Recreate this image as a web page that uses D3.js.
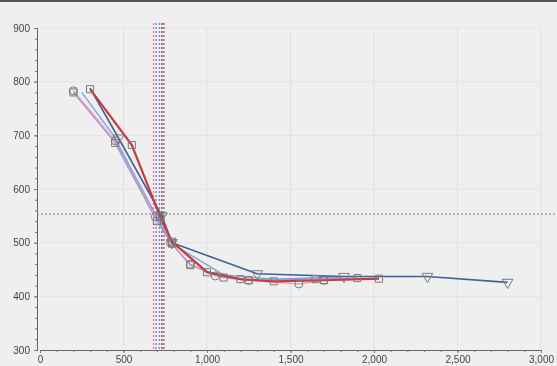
<!DOCTYPE html>
<html>
<head>
<meta charset="utf-8">
<script src="https://cdn.jsdelivr.net/npm/d3@7"></script>
<style>
  body { margin: 0; background: #efefef; }
  svg { display: block; font-family: "DejaVu Sans", sans-serif; }
</style>
</head>
<body>
<div id="chart"></div>
<script>
var width = 557, height = 366;
var margin = {top: 28, right: 16, bottom: 16, left: 40};

// series
var s1x = [200, 450, 690, 780, 900, 1050, 1250, 1550, 1700];
var s1y = [783, 690, 548, 500, 460, 438, 430, 423, 430];
var s2x = [200, 450, 700, 790, 900, 1100, 1250, 1650, 1900];
var s2y = [780, 686, 540, 498, 458, 435, 430, 432, 434];
var s3x = [300, 550, 720, 790, 1000, 1200, 1400, 1700, 2030];
var s3y = [786, 682, 548, 502, 445, 432, 428, 430, 433];
var s4x = [300, 470, 730, 790, 1300, 1820, 2320, 2800];
var s4y = [788, 695, 550, 500, 442, 437, 437, 426];
var s5x = [250, 440, 705, 790, 1100, 1400, 1800];
var s5y = [780, 700, 545, 498, 440, 432, 436];

var refX = [680, 695, 715, 730, 742];
var refY = [553];

var xTicks = [0, 500, 1000, 1500, 2000, 2500, 3000];
var yTicks = [300, 400, 500, 600, 700, 800, 900];

var series = [
  {x: s1x, y: s1y, color: "#e0a0c0", w: 1.3, mark: "circle"},
  {x: s2x, y: s2y, color: "#b090c8", w: 1.3, mark: "square"},
  {x: s5x, y: s5y, color: "#7aa0dc", w: 1.3, mark: "none"},
  {x: s4x, y: s4y, color: "#3f5f9a", w: 1.6, mark: "tri"},
  {x: s3x, y: s3y, color: "#c83a3a", w: 2.2, mark: "square"}
];
var refColors = ["#e07aa8", "#9070b0", "#6a8ad0", "#34487a", "#d04848"];

var svg = d3.select("#chart").append("svg")
    .attr("width", width)
    .attr("height", height);

svg.append("defs").append("filter")
    .attr("id", "soft")
    .append("feGaussianBlur")
    .attr("stdDeviation", 0.45);

svg.append("rect").attr("width", width).attr("height", height).attr("fill", "#efefef");
svg.append("rect").attr("width", width).attr("height", 2).attr("fill", "#555");

var g = svg.append("g").attr("filter", "url(#soft)");

var x = d3.scaleLinear().domain([0, 3000]).range([margin.left, width - margin.right]);
var y = d3.scaleLinear().domain([300, 900]).range([height - margin.bottom, margin.top]);

// grid
g.append("g").selectAll("line")
    .data(xTicks.slice(1))
    .enter().append("line")
    .attr("x1", function(d) { return x(d); })
    .attr("x2", function(d) { return x(d); })
    .attr("y1", y(900)).attr("y2", y(300))
    .attr("stroke", "#e0e0e0");
g.append("g").selectAll("line")
    .data(yTicks.slice(1))
    .enter().append("line")
    .attr("y1", function(d) { return y(d); })
    .attr("y2", function(d) { return y(d); })
    .attr("x1", x(0)).attr("x2", x(3000))
    .attr("stroke", "#e4e4e4");

// axes
var fmt = d3.format(",d");
var xAxis = g.append("g")
    .attr("transform", "translate(0," + y(300) + ")")
    .call(d3.axisBottom(x).tickValues(xTicks).tickFormat(fmt).tickSize(3));
var xMinor = g.append("g")
    .attr("transform", "translate(0," + y(300) + ")")
    .call(d3.axisBottom(x).ticks(30).tickFormat("").tickSize(2));
var yAxis = g.append("g")
    .attr("transform", "translate(" + (x(0) - 3) + ",0)")
    .call(d3.axisLeft(y).tickValues(yTicks).tickSize(3));
var yMinor = g.append("g")
    .attr("transform", "translate(" + (x(0) - 3) + ",0)")
    .call(d3.axisLeft(y).ticks(30).tickFormat("").tickSize(2));

[xAxis, xMinor, yAxis, yMinor].forEach(function(a) {
  a.selectAll("path").attr("stroke", "#666");
  a.selectAll("line").attr("stroke", "#777");
  a.selectAll("text").attr("fill", "#444").attr("font-size", 10);
});
yAxis.selectAll("text").attr("dx", "-1");

// reference lines
g.append("g").selectAll("line")
    .data(refX)
    .enter().append("line")
    .attr("x1", function(d) { return x(d); })
    .attr("x2", function(d) { return x(d); })
    .attr("y1", y(900) - 5).attr("y2", y(300))
    .attr("stroke", function(d, i) { return refColors[i]; })
    .attr("stroke-width", 1.3)
    .attr("stroke-dasharray", "2,2");
g.append("g").selectAll("line")
    .data(refY)
    .enter().append("line")
    .attr("x1", x(0) - 3).attr("x2", width)
    .attr("y1", function(d) { return y(d); })
    .attr("y2", function(d) { return y(d); })
    .attr("stroke", "#8890a8")
    .attr("stroke-width", 1.3)
    .attr("stroke-dasharray", "2,2");

// series
var line = d3.line()
    .x(function(d) { return x(d[0]); })
    .y(function(d) { return y(d[1]); });

series.forEach(function(s) {
  var pts = s.x.map(function(v, i) { return [v, s.y[i]]; });
  g.append("path")
      .datum(pts)
      .attr("d", line)
      .attr("fill", "none")
      .attr("stroke", s.color)
      .attr("stroke-width", s.w);
});

series.forEach(function(s) {
  if (s.mark === "none") return;
  var pts = s.x.map(function(v, i) { return [v, s.y[i]]; });
  // the triangles start after the shared first point, which shows a square
  if (s.mark === "tri") pts = pts.slice(1);
  var sym = s.mark === "circle" ? d3.symbolCircle : s.mark === "tri" ? d3.symbolTriangle : d3.symbolSquare;
  g.append("g").selectAll("path")
      .data(pts)
      .enter().append("path")
      .attr("transform", function(d) {
        return "translate(" + x(d[0]) + "," + y(d[1]) + ")" + (s.mark === "tri" ? " rotate(180)" : "");
      })
      .attr("d", d3.symbol().type(sym).size(50))
      .attr("fill", "none")
      .attr("stroke", "#7a7a7a")
      .attr("stroke-width", 1);
});
</script>
</body>
</html>
